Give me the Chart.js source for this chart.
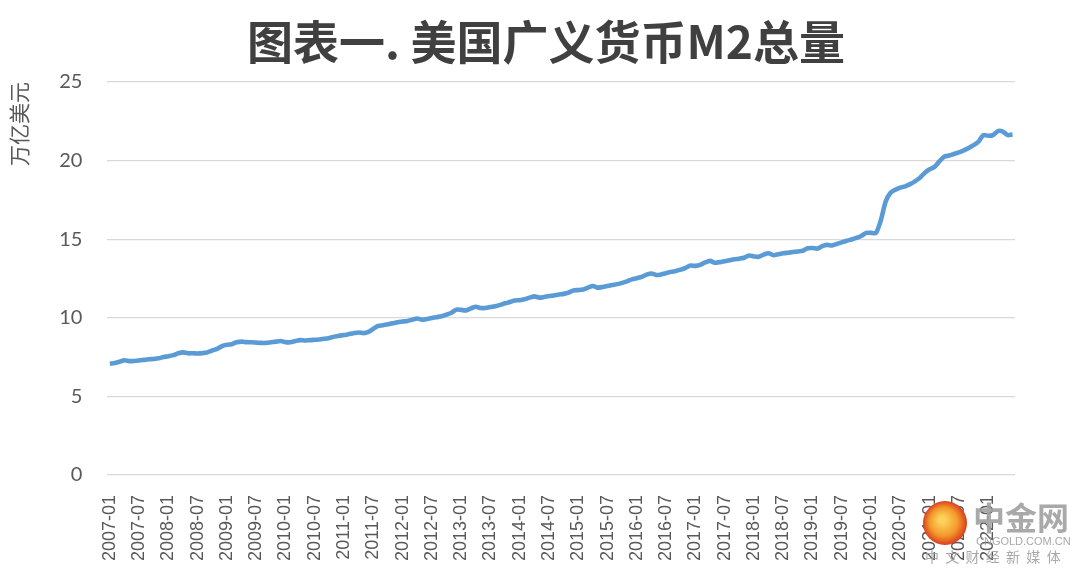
<!DOCTYPE html>
<html>
<head>
<meta charset="utf-8">
<script src="https://cdn.jsdelivr.net/npm/chart.js@4/dist/chart.umd.min.js"></script>
<style>
  html, body { margin: 0; padding: 0; background: #fff; }
  #wrap { width: 1080px; height: 573px; position: relative; }
</style>
</head>
<body>
<div id="wrap"><canvas id="m2Chart" width="1080" height="573"></canvas></div>
<script>
// US M2 money stock, trillion USD, monthly
const startYear = 2007;
const m2_2007 = [7.08, 7.12, 7.20, 7.30, 7.24, 7.25, 7.28, 7.32, 7.36, 7.38, 7.42, 7.50];
const m2_2008 = [7.55, 7.62, 7.74, 7.80, 7.74, 7.74, 7.73, 7.75, 7.80, 7.92, 8.02, 8.20];
const m2_2009 = [8.28, 8.32, 8.44, 8.48, 8.45, 8.44, 8.42, 8.40, 8.40, 8.44, 8.48, 8.52];
const m2_2010 = [8.45, 8.44, 8.52, 8.58, 8.55, 8.58, 8.60, 8.62, 8.66, 8.72, 8.80, 8.86];
const m2_2011 = [8.90, 8.96, 9.02, 9.06, 9.02, 9.10, 9.30, 9.48, 9.52, 9.58, 9.65, 9.72];
const m2_2012 = [9.76, 9.80, 9.88, 9.95, 9.88, 9.92, 9.98, 10.04, 10.10, 10.20, 10.32, 10.52];
const m2_2013 = [10.50, 10.47, 10.60, 10.70, 10.62, 10.62, 10.68, 10.74, 10.82, 10.92, 11.00, 11.10];
const m2_2014 = [11.12, 11.18, 11.28, 11.36, 11.28, 11.32, 11.38, 11.42, 11.48, 11.52, 11.60, 11.74];
const m2_2015 = [11.76, 11.80, 11.92, 12.02, 11.92, 11.96, 12.02, 12.08, 12.14, 12.22, 12.32, 12.44];
const m2_2016 = [12.52, 12.60, 12.74, 12.82, 12.72, 12.76, 12.84, 12.92, 12.98, 13.06, 13.18, 13.32];
const m2_2017 = [13.30, 13.36, 13.52, 13.62, 13.50, 13.54, 13.60, 13.66, 13.72, 13.76, 13.82, 13.96];
const m2_2018 = [13.90, 13.88, 14.02, 14.10, 13.98, 14.04, 14.10, 14.14, 14.18, 14.22, 14.26, 14.42];
const m2_2019 = [14.44, 14.40, 14.56, 14.64, 14.60, 14.70, 14.80, 14.90, 14.98, 15.08, 15.20, 15.40];
const m2_2020 = [15.40, 15.40, 16.20, 17.40, 17.95, 18.15, 18.28, 18.36, 18.50, 18.68, 18.90, 19.22];
const m2_2021 = [19.45, 19.60, 19.95, 20.25, 20.32, 20.42, 20.52, 20.65, 20.80, 20.98, 21.20, 21.62];
const m2_2022 = [21.58, 21.62, 21.88, 21.85, 21.62, 21.66];

const yearly = [m2_2007, m2_2008, m2_2009, m2_2010, m2_2011, m2_2012, m2_2013, m2_2014,
  m2_2015, m2_2016, m2_2017, m2_2018, m2_2019, m2_2020, m2_2021, m2_2022];

const labels = [];
const values = [];
yearly.forEach((arr, i) => {
  arr.forEach((v, j) => {
    labels.push((startYear + i) + "-" + String(j + 1).padStart(2, "0"));
    values.push(v);
  });
});

const yTicks = [0, 5, 10, 15, 20, 25];
const chartTitle = "图表一. 美国广义货币M2总量";

// title over the whole picture, centred like the original
const titlePlugin = {
  id: "bigTitle",
  afterDraw(chart) {
    const ctx = chart.ctx;
    ctx.save();
    ctx.fillStyle = "#404040";
    ctx.font = "bold 46px 'Noto Sans CJK SC'";
    ctx.textAlign = "center";
    ctx.textBaseline = "middle";
    ctx.fillText(chartTitle, 546, 42);
    ctx.restore();
  }
};

// watermark in the bottom right corner
const watermark = {
  id: "watermark",
  afterDraw(chart) {
    const ctx = chart.ctx;
    ctx.save();
    const g = ctx.createRadialGradient(942, 520, 3, 945, 523, 23);
    g.addColorStop(0, "#fbd35a");
    g.addColorStop(0.55, "#f39a2b");
    g.addColorStop(1, "#d8321d");
    ctx.fillStyle = g;
    ctx.beginPath();
    ctx.arc(945, 523, 22, 0, Math.PI * 2);
    ctx.fill();
    ctx.fillStyle = "rgba(160,160,160,0.9)";
    ctx.font = "bold 32px 'Noto Sans CJK SC'";
    ctx.textAlign = "left";
    ctx.textBaseline = "middle";
    ctx.fillText("中金网", 973, 518);
    ctx.font = "11px 'Liberation Sans'";
    ctx.fillText("CNGOLD.COM.CN", 976, 542);
    ctx.font = "14px 'Noto Sans CJK SC'";
    ctx.fillText("中  文  财  经  新  媒  体", 925, 557);
    ctx.restore();
  }
};

new Chart(document.getElementById("m2Chart"), {
  type: "line",
  data: {
    labels: labels,
    datasets: [{
      label: "M2",
      data: values,
      borderColor: "#5b9bd5",
      borderWidth: 4.6,
      pointRadius: 0,
      tension: 0.25,
      fill: false
    }]
  },
  options: {
    responsive: false,
    animation: false,
    layout: { padding: { left: 0, right: 65, top: 82, bottom: 0 } },
    plugins: {
      legend: { display: false },
      tooltip: { enabled: false },
      title: { display: false }
    },
    scales: {
      x: {
        offset: true,
        grid: { display: false },
        border: { display: false },
        ticks: {
          autoSkip: false,
          maxRotation: 90,
          minRotation: 90,
          padding: 12,
          color: "#595959",
          font: { family: "'Liberation Sans'", size: 18 },
          callback: (v, i) => (i % 6 === 0 ? labels[i] : null)
        }
      },
      y: {
        min: 0,
        max: 25,
        afterBuildTicks: (axis) => { axis.ticks = yTicks.map((v) => ({ value: v })); },
        grid: { color: "#d9d9d9", lineWidth: 1.3, drawTicks: false },
        border: { display: false },
        title: {
          display: true,
          text: "万亿美元",
          align: "end",
          color: "#595959",
          font: { family: "'Noto Sans CJK SC'", size: 21 },
          padding: { top: 6, bottom: 3 }
        },
        ticks: {
          padding: 25,
          color: "#595959",
          font: { family: "Lato", size: 20 }
        }
      }
    }
  },
  plugins: [titlePlugin, watermark]
});
</script>
</body>
</html>
